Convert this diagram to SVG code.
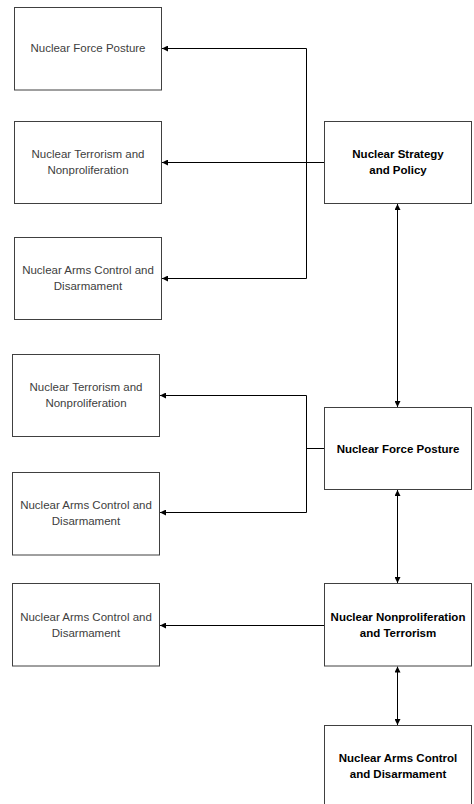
<svg xmlns="http://www.w3.org/2000/svg" width="474" height="804" viewBox="0 0 474 804">
<defs>
<marker id="ah" viewBox="0 0 10 10" refX="10" refY="5" markerWidth="6" markerHeight="6" markerUnits="userSpaceOnUse" orient="auto-start-reverse">
<path d="M0,0 L10,5 L0,10 z" fill="#000"/>
</marker>
<style>
.box{fill:#fff;stroke:#404040;stroke-width:1}
.t{font-family:"Liberation Sans",Arial,sans-serif;font-size:11.5px;fill:#404040;text-anchor:middle}
.b{font-family:"Liberation Sans",Arial,sans-serif;font-size:11.5px;font-weight:bold;fill:#000;text-anchor:middle}
.c{fill:none;stroke:#000;stroke-width:1}
</style>
</defs>
<rect width="474" height="804" fill="#fff"/>
<g id="connectors">
<path class="c" d="M324,162.5 H306.5"/>
<path class="c" d="M306.5,48.5 V278.5"/>
<path class="c" d="M306.5,48.5 H162" marker-end="url(#ah)"/>
<path class="c" d="M306.5,162.5 H162" marker-end="url(#ah)"/>
<path class="c" d="M306.5,278.5 H162" marker-end="url(#ah)"/>
<path class="c" d="M397.5,204 V407" marker-start="url(#ah)" marker-end="url(#ah)"/>
<path class="c" d="M324,448.5 H306.5"/>
<path class="c" d="M306.5,395.5 V512.5"/>
<path class="c" d="M306.5,395.5 H160" marker-end="url(#ah)"/>
<path class="c" d="M306.5,512.5 H160" marker-end="url(#ah)"/>
<path class="c" d="M397.5,490 V583" marker-start="url(#ah)" marker-end="url(#ah)"/>
<path class="c" d="M324,625.5 H160" marker-end="url(#ah)"/>
<path class="c" d="M397.5,666.5 V725" marker-start="url(#ah)" marker-end="url(#ah)"/>
</g>
<g id="n1"><rect class="box" x="14.5" y="7.5" width="147" height="82.5"/><text class="t" x="88" y="52">Nuclear Force Posture</text></g>
<g id="n2"><rect class="box" x="14.5" y="121.5" width="147" height="82"/><text class="t" x="88" y="158">Nuclear Terrorism and</text><text class="t" x="88" y="174">Nonproliferation</text></g>
<g id="n3"><rect class="box" x="14.5" y="237.5" width="147" height="82"/><text class="t" x="88" y="274">Nuclear Arms Control and</text><text class="t" x="88" y="290">Disarmament</text></g>
<g id="s1"><rect class="box" x="324.5" y="121.5" width="147" height="82"/><text class="b" x="398" y="158">Nuclear Strategy</text><text class="b" x="398" y="174">and Policy</text></g>
<g id="n4"><rect class="box" x="12.5" y="354.5" width="147" height="82"/><text class="t" x="86" y="391">Nuclear Terrorism and</text><text class="t" x="86" y="407">Nonproliferation</text></g>
<g id="n5"><rect class="box" x="12.5" y="472.5" width="147" height="82.5"/><text class="t" x="86" y="509">Nuclear Arms Control and</text><text class="t" x="86" y="525">Disarmament</text></g>
<g id="s2"><rect class="box" x="324.5" y="407.5" width="147" height="82"/><text class="b" x="398" y="452.5">Nuclear Force Posture</text></g>
<g id="n6"><rect class="box" x="12.5" y="583.5" width="147" height="82.5"/><text class="t" x="86" y="621">Nuclear Arms Control and</text><text class="t" x="86" y="637">Disarmament</text></g>
<g id="s3"><rect class="box" x="324.5" y="583.5" width="147" height="82.5"/><text class="b" x="398" y="621">Nuclear Nonproliferation</text><text class="b" x="398" y="637">and Terrorism</text></g>
<g id="s4"><rect class="box" x="324.5" y="725.5" width="147" height="82.5"/><text class="b" x="398" y="762">Nuclear Arms Control</text><text class="b" x="398" y="778">and Disarmament</text></g>
</svg>
